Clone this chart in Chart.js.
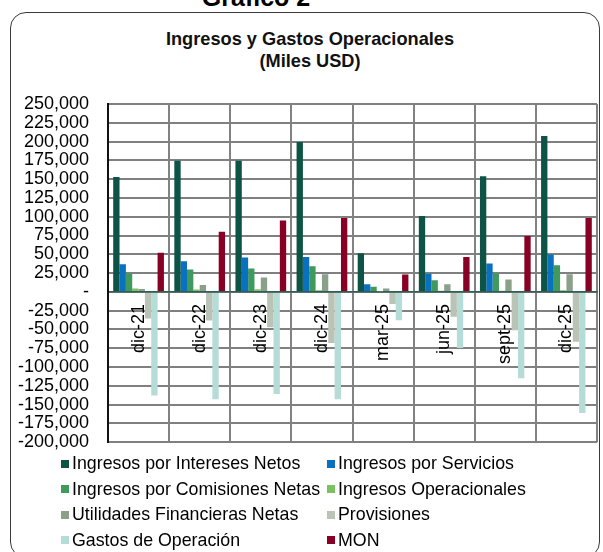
<!DOCTYPE html>
<html lang="es">
<head>
<meta charset="utf-8">
<title>Ingresos y Gastos Operacionales</title>
<script src="https://cdn.jsdelivr.net/npm/chart.js@4.4.1/dist/chart.umd.min.js"></script>
<style>
    html, body {
        margin: 0;
        padding: 0;
        background: #fff;
        font-family: "Liberation Sans", Arial, sans-serif;
    }
    .page {
        position: relative;
        width: 603px;
        height: 552px;
        overflow: hidden;
    }
    .heading {
        position: absolute;
        left: 0;
        width: 512px;
        top: -15px;
        text-align: center;
        font-size: 25px;
        line-height: 1;
        font-weight: bold;
        color: #000;
    }
    .frame {
        position: absolute;
        left: 10px;
        top: 12px;
        width: 590px;
        height: 546px;
        border: 1.5px solid #3a3a3a;
        border-radius: 16px;
        box-sizing: border-box;
    }
    .chart-title {
        position: absolute;
        left: 0;
        width: 620px;
        top: 29px;
        text-align: center;
        font-size: 18.2px;
        line-height: 21.6px;
        font-weight: bold;
        color: #111;
    }
    .chart-box {
        position: absolute;
        left: 0;
        top: 0;
        width: 603px;
        height: 472px;
    }
    #legend {
        position: absolute;
        left: 61px;
        top: 451px;
        display: grid;
        grid-template-columns: 266px auto;
        font-size: 17.8px;
        line-height: 25.5px;
        color: #000;
        white-space: nowrap;
    }
    #legend .item {
        display: flex;
        align-items: center;
    }
    #legend .swatch {
        width: 8px;
        height: 8px;
        margin-right: 3px;
    }
</style>
</head>
<body>
<div class="page">
    <div class="heading">Gráfico 2</div>
    <div class="frame"></div>
    <div class="chart-title">Ingresos y Gastos Operacionales<br>(Miles USD)</div>
    <div class="chart-box"><canvas id="ops-chart" width="603" height="472"></canvas></div>
    <div id="legend"></div>
</div>

<script>
// Periods on the x axis
const periods = ["dic-21", "dic-22", "dic-23", "dic-24", "mar-25", "jun-25", "sept-25", "dic-25"];

// Figures in thousands of USD
const interesesNetos = [153000, 174500, 174500, 199500, 51500, 101000, 154000, 207500];
const servicios = [36800, 40800, 45700, 46500, 10000, 24000, 37700, 49700];
const comisionesNetas = [24500, 29800, 31000, 34000, 6700, 15600, 24500, 35500];
const operacionales = [4500, 3200, 3600, 2300, 1000, 1500, 1500, 2300];
const utilidadesFinancieras = [4000, 9000, 19000, 23500, 4500, 10000, 16500, 23500];
const provisiones = [-35400, -38000, -47000, -68000, -16000, -33000, -51000, -66500];
const gastosOperacion = [-138000, -143000, -136000, -143000, -37600, -74500, -115000, -161000];
const mon = [52000, 80000, 95000, 98400, 23000, 46500, 74500, 98400];

const seriesNames = [
    "Ingresos por Intereses Netos",
    "Ingresos por Servicios",
    "Ingresos por Comisiones Netas",
    "Ingresos Operacionales",
    "Utilidades Financieras Netas",
    "Provisiones",
    "Gastos de Operación",
    "MON",
];
const seriesValues = [
    interesesNetos, servicios, comisionesNetas, operacionales,
    utilidadesFinancieras, provisiones, gastosOperacion, mon,
];
const seriesColors = [
    "#0d5446", "#0a70c0", "#3f9a5c", "#7dc063",
    "#8aa089", "#b9c3b6", "#b5dcd7", "#880024",
];

const GRID_X = "rgb(130, 130, 130)";
const GRID_Y = "gray";
const ZERO_LINE = "rgb(47, 95, 85)";
const FONT = "'Liberation Sans', Arial, sans-serif";

function fmtThousands(v) {
    if (v === 0) return "-";
    const s = Math.abs(v).toString().replace(/\B(?=(\d{3})+(?!\d))/g, ",");
    return (v < 0 ? "-" : "") + s;
}

// Two-column legend built from the chart's own legend items
const htmlLegend = {
    id: "htmlLegend",
    afterUpdate(chart) {
        const box = document.getElementById("legend");
        box.innerHTML = "";
        const items = chart.options.plugins.legend.labels.generateLabels(chart);
        items.forEach((item) => {
            const row = document.createElement("div");
            row.className = "item";
            const sw = document.createElement("span");
            sw.className = "swatch";
            sw.style.background = item.fillStyle;
            const txt = document.createElement("span");
            txt.textContent = item.text;
            row.appendChild(sw);
            row.appendChild(txt);
            box.appendChild(row);
        });
    },
};

function opsChart() {
    const ctx = document.getElementById("ops-chart").getContext("2d");

    const config = {
        type: "bar",
        data: {
            labels: periods,
            datasets: seriesNames.map((name, i) => ({
                label: name,
                data: seriesValues[i],
                backgroundColor: seriesColors[i],
                borderWidth: 0,
                barPercentage: 1,
                categoryPercentage: 0.83,
            })),
        },
        options: {
            responsive: false,
            animation: false,
            layout: { padding: { left: 0, right: 6, top: 104, bottom: 0 } },
            plugins: {
                legend: { display: false },
                tooltip: { enabled: false },
                title: { display: false },
            },
            scales: {
                x: {
                    position: { y: 0 },
                    grid: {
                        color: GRID_X,
                        lineWidth: 2,
                        drawTicks: false,
                        offset: true,
                    },
                    border: { color: ZERO_LINE, width: 1.5 },
                    ticks: {
                        color: "#000",
                        minRotation: 90,
                        maxRotation: 90,
                        padding: 12,
                        autoSkip: false,
                        font: { family: FONT, size: 18 },
                    },
                },
                y: {
                    min: -200000,
                    max: 250000,
                    afterFit: (scale) => {
                        scale.width = 108;
                    },
                    grid: {
                        color: GRID_Y,
                        lineWidth: 2,
                        drawTicks: false,
                    },
                    border: { color: "#111", width: 2 },
                    ticks: {
                        stepSize: 25000,
                        maxTicksLimit: 20,
                        autoSkip: false,
                        color: "#000",
                        padding: 19,
                        font: { family: FONT, size: 18 },
                        callback: (v) => fmtThousands(v),
                    },
                },
            },
        },
        plugins: [htmlLegend],
    };

    new Chart(ctx, config);
}

document.addEventListener("DOMContentLoaded", opsChart);
</script>
</body>
</html>
